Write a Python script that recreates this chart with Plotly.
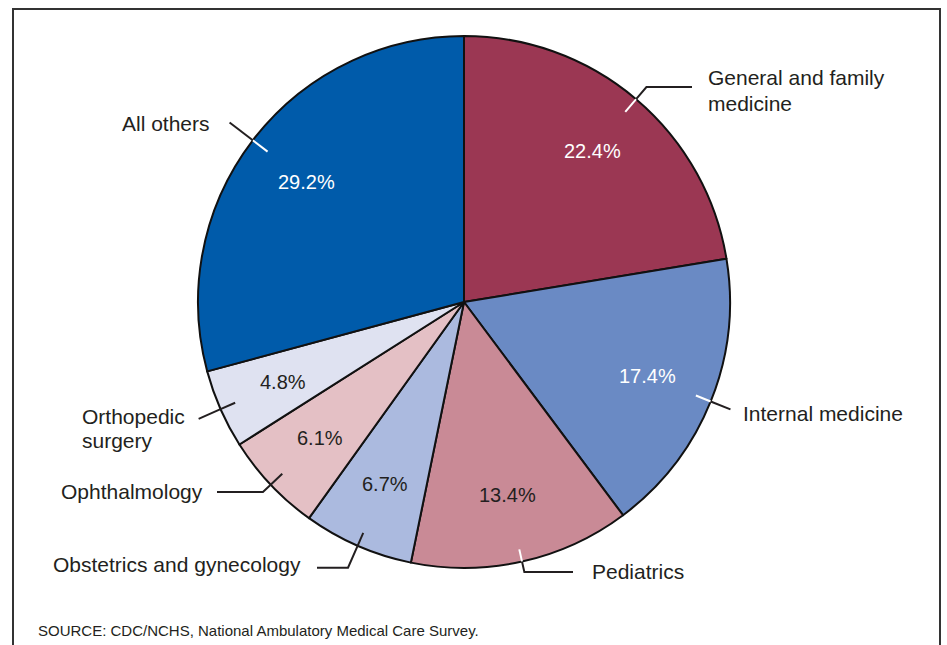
import math
import plotly.graph_objects as go

# ---- data ----
labels = ["General and family\nmedicine", "Internal medicine", "Pediatrics",
          "Obstetrics and gynecology", "Ophthalmology", "Orthopedic\nsurgery", "All others"]
values = [22.4, 17.4, 13.4, 6.7, 6.1, 4.8, 29.2]
colors = ["#9B3753", "#6A8AC4", "#C98A96", "#ABBADF", "#E4C0C5", "#DFE2F1", "#005BAA"]
pct_colors = ["white", "white", "#231F20", "#231F20", "#231F20", "#231F20", "white"]
source = "SOURCE: CDC/NCHS, National Ambulatory Medical Care Survey."

W, H = 947, 645
CX, CY, R = 464, 302, 266

def px(x):
    return x / W

def py(y):
    return 1 - y / H

fig = go.Figure(go.Pie(
    labels=[l.replace("\n", " ") for l in labels], values=values, sort=False,
    direction="clockwise", rotation=0,
    marker=dict(colors=colors, line=dict(color="#111111", width=2)),
    textinfo="none", hoverinfo="none",
    domain=dict(x=[px(CX - R), px(CX + R)], y=[py(CY + R), py(CY - R)]),
))

# leader style: inner frac, outer frac, horizontal end x (px) or None, inner colour
leader = [
    (0.937, 1.06, 692, "white"),
    (0.94, 1.08, None, "white"),
    (0.953, 1.04, 573, "white"),
    (0.947, 1.09, 317, "#231F20"),
    (0.94, 1.04, 217, "#231F20"),
    (0.94, 1.09, None, "#231F20"),
    (0.93, 1.11, None, "white"),
]
# label text placement: list of (x, y, xanchor) per line
label_pos = [
    [(706, 78, "left"), (706, 103, "left")],
    [(741, 413, "left")],
    [(590, 571, "left")],
    [(303, 564, "right")],
    [(205, 491, "right")],
    [(80, 417, "left"), (80, 441, "left")],
    [(212, 124, "right")],
]

def pt(theta, r):
    t = math.radians(theta)
    return CX + r * math.sin(t), CY - r * math.cos(t)

shapes = []
annotations = []
total = sum(values)
cum = 0.0
for i, v in enumerate(values):
    mid = (cum + v / 2) / total * 360
    cum += v
    # percent label
    x, y = pt(mid, 0.745 * R)
    annotations.append(dict(x=px(x), y=py(y), xref="paper", yref="paper",
                            text=f"{v:.1f}%", showarrow=False,
                            font=dict(size=20, color=pct_colors[i]),
                            xanchor="center", yanchor="middle"))
    fi, fo, hx, icol = leader[i]
    x0, y0 = pt(mid, fi * R)
    x1, y1 = pt(mid, R)
    x2, y2 = pt(mid, fo * R)
    shapes.append(dict(type="line", xref="paper", yref="paper",
                       x0=px(x0), y0=py(y0), x1=px(x1), y1=py(y1),
                       line=dict(color=icol, width=2)))
    path = f"M{px(x1)},{py(y1)} L{px(x2)},{py(y2)}"
    if hx is not None:
        path += f" L{px(hx)},{py(y2)}"
    shapes.append(dict(type="path", xref="paper", yref="paper", path=path,
                       line=dict(color="#231F20", width=2)))
    for (lx, ly, anc), line_txt in zip(label_pos[i], labels[i].split("\n")):
        annotations.append(dict(x=px(lx), y=py(ly), xref="paper", yref="paper",
                                text=line_txt, showarrow=False,
                                font=dict(size=21, color="#231F20"),
                                xanchor=anc, yanchor="middle"))

annotations.append(dict(x=px(36), y=py(630), xref="paper", yref="paper",
                        text=source, showarrow=False,
                        font=dict(size=15, color="#231F20"),
                        xanchor="left", yanchor="middle"))

# frame (open at bottom)
frame = f"M{px(13)},{py(650)} L{px(13)},{py(9)} L{px(940)},{py(9)} L{px(940)},{py(650)}"
shapes.append(dict(type="path", xref="paper", yref="paper", path=frame,
                   line=dict(color="#333333", width=2)))

fig.update_layout(
    width=W, height=H, margin=dict(l=0, r=0, t=0, b=0),
    paper_bgcolor="white", plot_bgcolor="white", showlegend=False,
    font=dict(family="Liberation Sans, Arial, sans-serif", color="#231F20"),
    shapes=shapes, annotations=annotations,
)
fig.write_html("out.html", config={"displayModeBar": False},
               post_script="document.body.style.margin='0';document.body.style.overflow='hidden';")
